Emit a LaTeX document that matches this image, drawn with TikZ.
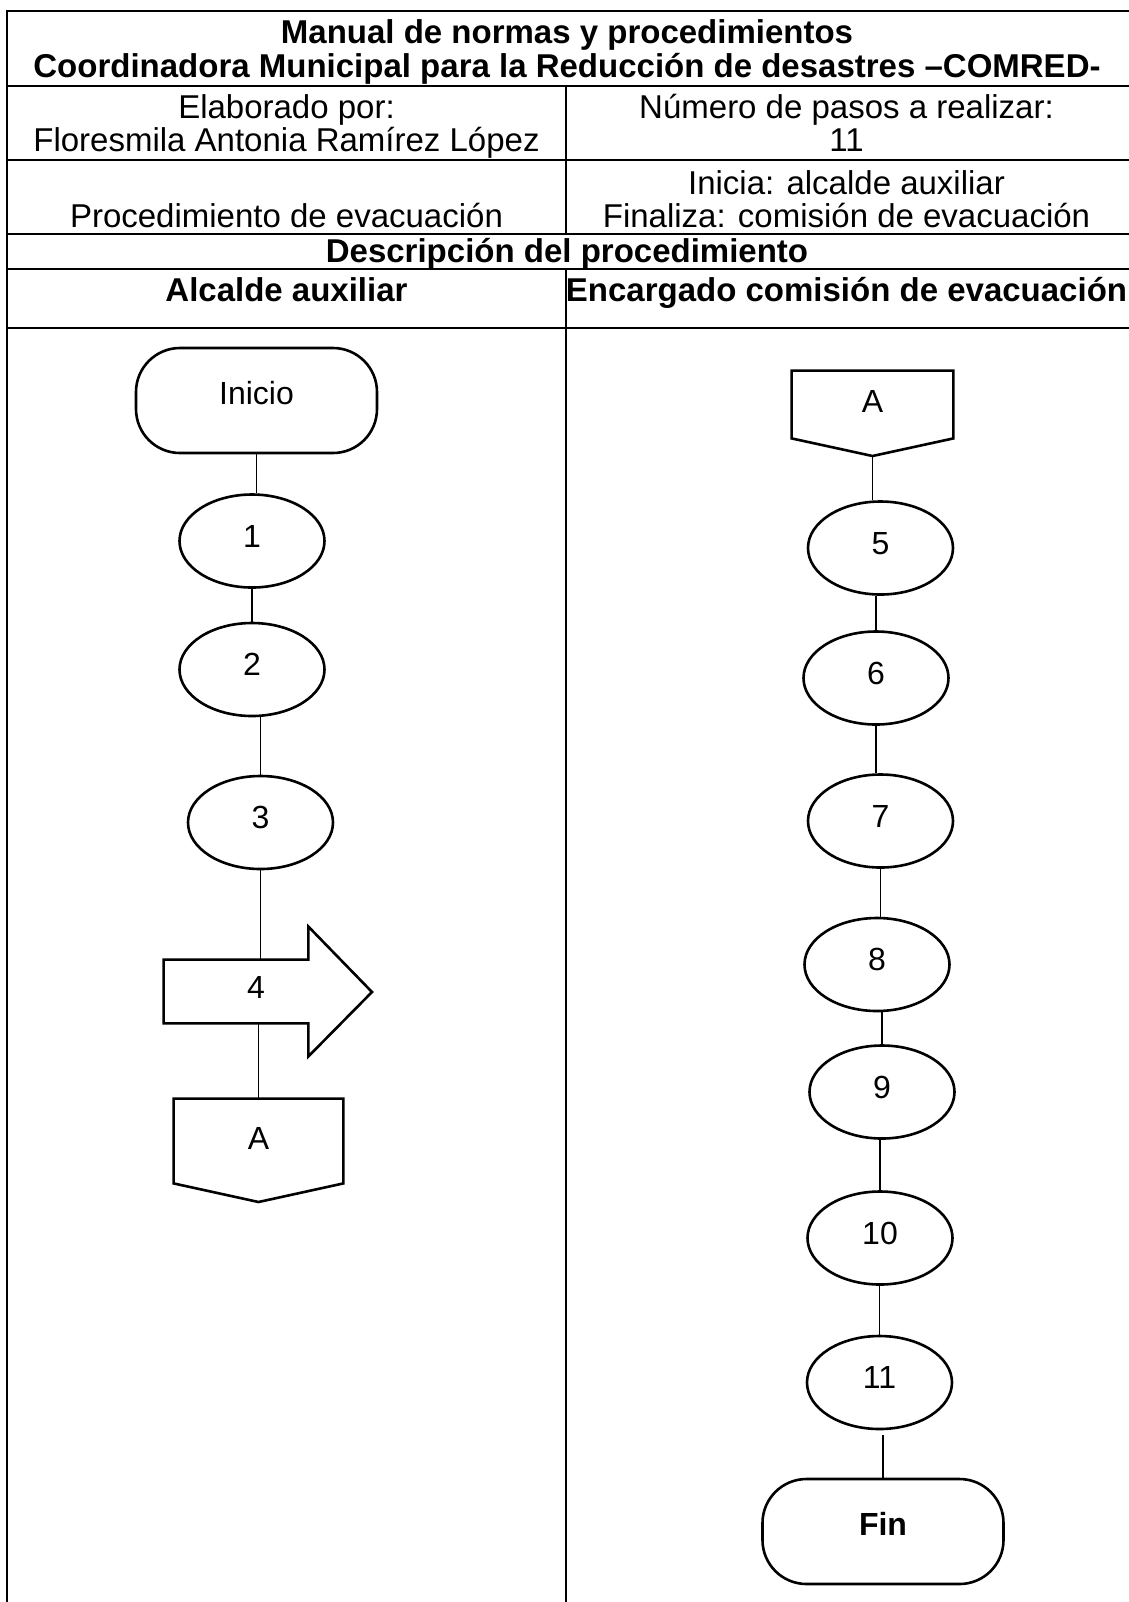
\documentclass[tikz,border=0pt]{standalone}
\usepackage{fontspec}
\setmainfont{Liberation Sans}
\usetikzlibrary{shapes.geometric,calc}
\begin{document}
\begin{tikzpicture}[x=0.5pt,y=-0.5pt,
  tbl/.style={line width=1.4pt, line cap=rect},
  hdr/.style={anchor=base, inner sep=0pt, font=\fontsize{16.5pt}{19pt}\selectfont},
  hdrb/.style={anchor=base, inner sep=0pt, font=\fontsize{16.5pt}{19pt}\selectfont\bfseries},
  oval/.style={ellipse, draw, line width=1.3pt, inner sep=0pt, minimum width=72.5pt, minimum height=46.5pt, text depth=5pt, font=\fontsize{16pt}{19pt}\selectfont},
  term/.style={rectangle, rounded corners=22pt, draw, line width=1.3pt, minimum width=120.5pt, minimum height=52.5pt, inner sep=0pt, text depth=8pt, font=\fontsize{16pt}{19pt}\selectfont},
  offbox/.style={rectangle, inner sep=0pt, text depth=3pt, font=\fontsize{16pt}{19pt}\selectfont},
  txt/.style={inner sep=0pt, font=\fontsize{16pt}{19pt}\selectfont},
  shp/.style={line width=1.3pt, line join=miter},
  conn/.style={line width=0.65pt},
]
\useasboundingbox (0,0) rectangle (1129,1602);

% ---- table ----
\draw[tbl] (1140,11) -- (7,11) -- (7,1620);
\foreach \yy in {86,160,234,269,328} \draw[tbl] (7,\yy) -- (1140,\yy);
\draw[tbl] (566,86) -- (566,234);
\draw[tbl] (566,269) -- (566,1620);

% ---- header texts ----
\node[hdrb] (t1) at (567,43) {Manual de normas y procedimientos};
\node[hdrb] (t2) at (567,77) {Coordinadora Municipal para la Reducción de desastres –COMRED-};
\node[hdr] (e1) at (286.5,118) {Elaborado por:};
\node[hdr] (e2) at (286.5,151) {Floresmila Antonia Ramírez López};
\node[hdr] (p1) at (846.5,118) {Número de pasos a realizar:};
\node[hdr] (p2) at (846.5,151) {11};
\node[hdr] (pr) at (286.5,227) {Procedimiento de evacuación};
\node[hdr] (i1) at (846.5,194) {Inicia: alcalde auxiliar};
\node[hdr] (i2) at (846.5,227) {Finaliza: comisión de evacuación};
\node[hdrb] (dp) at (567,262) {Descripción del procedimiento};
\node[hdrb] (h1) at (286.5,301) {Alcalde auxiliar};
\node[hdrb] (h2) at (846.5,301) {Encargado comisión de evacuación};

% ---- left column ----
\node[term] (ini) at (256.5,400.5) {Inicio};
\node[oval] (n1) at (252,541) {1};
\node[oval] (n2) at (252,669.5) {2};
\node[oval] (n3) at (260.5,822.5) {3};
\node[rectangle, inner sep=0pt, minimum width=72pt, minimum height=31.5pt] (n4) at (236,991.5) {};
\coordinate (n4tip) at (372,992);
\draw[shp] (n4.north east) -- (n4.north west) -- (n4.south west) -- (n4.south east)
  -- ($(n4.south east)+(0,33)$) -- (n4tip) -- ($(n4.north east)+(0,-33)$) -- cycle;
\node[txt] (t4) at (256,987) {4};
\node[offbox, minimum width=84.5pt, minimum height=42pt] (A1) at (258.5,1141) {A};
\coordinate (A1tip) at (258.5,1202);
\draw[shp] (A1.south west) -- (A1.north west) -- (A1.north east) -- (A1.south east) -- (A1tip) -- cycle;

\draw[conn] (ini.south) -- (ini.south |- n1.north);
\draw[conn] (n1.south) -- (n1.south |- n2.north);
\draw[conn] (n3.north |- n2.south) -- (n3.north);
\draw[conn] (n3.south) -- (n3.south |- n4.north);
\draw[conn] (n4.south -| A1.north) -- (A1.north);

% ---- right column ----
\node[offbox, minimum width=80.5pt, minimum height=33.5pt] (A2) at (872.5,404.5) {A};
\coordinate (A2tip) at (872.5,456);
\draw[shp] (A2.south west) -- (A2.north west) -- (A2.north east) -- (A2.south east) -- (A2tip) -- cycle;
\node[oval] (n5) at (880.5,548) {5};
\node[oval] (n6) at (876,678) {6};
\node[oval] (n7) at (880.5,821) {7};
\node[oval] (n8) at (877,964.5) {8};
\node[oval] (n9) at (882,1092) {9};
\node[oval] (n10) at (880,1238) {10};
\node[oval] (n11) at (879.5,1382.5) {11};
\node[term, font=\fontsize{16pt}{19pt}\selectfont\bfseries] (fin) at (883,1531.5) {Fin};

\draw[conn] (A2tip) -- (A2tip |- n5.north);
\draw[conn] (n6.north |- n5.south) -- (n6.north);
\draw[conn] (n6.south) -- (n6.south |- n7.north);
\draw[conn] (n7.south) -- (n7.south |- n8.north);
\draw[conn] (n9.north |- n8.south) -- (n9.north);
\draw[conn] (n10.north |- n9.south) -- (n10.north);
\draw[conn] (n11.north |- n10.south) -- (n11.north);
\draw[conn, shorten <=2.5pt] (fin.north |- n11.south) -- (fin.north);
\end{tikzpicture}
\end{document}
